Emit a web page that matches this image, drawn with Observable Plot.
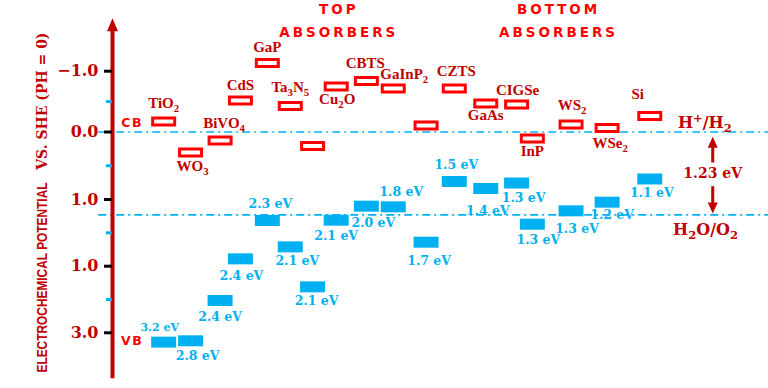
<!DOCTYPE html>
<html>
<head>
<meta charset="utf-8">
<script src="https://cdn.jsdelivr.net/npm/d3@7"></script>
<script src="https://cdn.jsdelivr.net/npm/@observablehq/plot@0.6"></script>
<style>
html, body { margin: 0; padding: 0; background: #fff; }
#chart { width: 768px; height: 388px; }
</style>
</head>
<body>
<div id="chart"></div>
<script>
// ---------------- data ----------------
const materials = ["TiO₂", "WO₃", "BiVO₄", "CdS", "GaP", "Ta₃N₅", "", "Cu₂O", "CBTS", "GaInP₂", "", "CZTS", "GaAs", "CIGSe", "InP", "WS₂", "WSe₂", "Si"];
const slot = [7.8, 11.9, 16.4, 19.5, 23.6, 27.1, 30.5, 34.1, 38.7, 42.8, 47.8, 52.1, 56.9, 61.6, 64.0, 69.9, 75.4, 81.9];
const cbEdge = [-0.173, 0.304, 0.126, -0.518, -1.135, -0.428, 0.207, -0.748, -0.839, -0.715, -0.107, -0.715, -0.469, -0.452, 0.096, -0.123, -0.066, -0.263];
const vbEdge = [3.14, 3.12, 2.515, 1.89, 1.315, 1.71, 2.31, 1.31, 1.10, 1.11, 1.64, 0.733, 0.837, 0.756, 1.37, 1.17, 1.04, 0.696];
const gapLabels = ["3.2 eV", "2.8 eV", "2.4 eV", "2.4 eV", "2.3 eV", "2.1 eV", "2.1 eV", "2.1 eV", "2.0 eV", "1.8 eV", "1.7 eV", "1.5 eV", "1.4 eV", "1.3 eV", "1.3 eV", "1.3 eV", "1.2 eV", "1.1 eV"];

const yTicks = [-1, 0, 1, 2, 3];
const yTickLabels = ["−1.0", "0.0", "1.0", "1.0", "3.0"];
const yMinorTicks = [-0.5, 0.5, 1.5, 2.5];

const redoxLevels = [0, 1.23];
const redoxLabels = ["H⁺/H₂", "H₂O/O₂"];
const redoxGapLabel = "1.23 eV";

const groupTitles = ["TOP", "BOTTOM"];
const groupTitleLine2 = ["ABSORBERS", "ABSORBERS"];
const groupCenters = [34.5, 68.0];

const bandLabels = ["CB", "VB"];
const bandLabelLevels = [-0.14, 3.13];

const axisTitleA = "ELECTROCHEMICAL POTENTIAL";
const axisTitleB = "VS. SHE (PH = 0)";

// ---------------- layout (label offsets in px) ----------------
const cbLabelOffset = [[0,-18],[2,14],[4,-17],[0,-15],[0,-16],[0,-19],null,[1,13],[-1,-18],[11,-14],null,[2,-17],[0,12],[1,-14],[0,13],[1,-19],[3,15],[-12,-22]];
const vbLabelOffset = [[-4,-15],[7,15],[0,17],[1,17],[3,-17],[7,14],[4,14],[0,16],[7,17],[8,-15],[3,19],[2,-16],[2,23],[7,15],[6,16],[6,18],[5,13],[2,14]];

const darkRed = "#c00000", red = "#ff0000", blue = "#00b0f0";

const rectSymbol = (w, h) => ({draw(c) { c.moveTo(-w/2, -h/2); c.lineTo(w/2, -h/2); c.lineTo(w/2, h/2); c.lineTo(-w/2, h/2); c.closePath(); }});
const headSymbol = (w, h) => ({draw(c) { c.moveTo(0, 0); c.lineTo(w/2, h); c.lineTo(-w/2, h); c.closePath(); }});

const idx = materials.map((_, i) => i);
const nameFont = {fontFamily: "Liberation Serif", fontWeight: "bold", fontSize: 15, fill: darkRed};
const evFont = {fontFamily: "DejaVu Serif", fontWeight: "bold", fill: blue};
const arrowX = 91.5;

const marks = [
  // redox levels (dash-dot)
  Plot.ruleY(redoxLevels, {x1: -2.1, x2: 100, stroke: blue, strokeWidth: 1.6, strokeDasharray: "8,4,2,4"}),
  // axis line with arrow head
  Plot.ruleX([0], {y1: 3.69, y2: -1.72, stroke: darkRed, strokeWidth: 4}),
  Plot.dot([0], {x: 0, y: -1.87, symbol: headSymbol(11, 13), fill: darkRed, stroke: "none"}),
  Plot.axisY({ticks: yTicks, tickSize: 8, tickPadding: 6, stroke: "black", strokeWidth: 3, fill: darkRed,
    fontFamily: "DejaVu Serif", fontWeight: "bold", fontSize: 16, label: null,
    tickFormat: d => yTickLabels[yTicks.indexOf(d)]}),
  Plot.axisY({ticks: yMinorTicks, tickSize: 6, stroke: blue, strokeWidth: 3, label: null, tickFormat: () => ""}),
  // conduction band edges (open boxes)
  Plot.dot(idx, {x: i => slot[i], y: i => cbEdge[i], symbol: rectSymbol(22, 7), fill: "none", stroke: red, strokeWidth: 3}),
  // valence band edges (filled boxes)
  Plot.dot(idx, {x: i => slot[i], y: i => vbEdge[i], symbol: rectSymbol(25, 11), fill: blue, stroke: "none"}),
  // band labels
  Plot.text(bandLabels, {x: 3.0, y: (d, i) => bandLabelLevels[i], text: d => d, fill: red, fontFamily: "DejaVu Sans", fontWeight: "bold", fontSize: 12.5}),
  // group titles
  Plot.text(groupTitles, {x: (d, i) => groupCenters[i], frameAnchor: "top", lineAnchor: "middle", dy: 9, text: d => d, fill: red, fontFamily: "DejaVu Sans", fontWeight: "bold", fontSize: 13.5}),
  Plot.text(groupTitleLine2, {x: (d, i) => groupCenters[i], frameAnchor: "top", lineAnchor: "middle", dy: 32, text: d => d, fill: red, fontFamily: "DejaVu Sans", fontWeight: "bold", fontSize: 13.5}),
  // y axis title
  Plot.text([axisTitleA], {frameAnchor: "bottom-left", lineAnchor: "middle", dx: -70, dy: -16, rotate: -90, textAnchor: "start", fill: darkRed, fontFamily: "Liberation Sans Narrow, Liberation Sans", fontWeight: "bold", fontSize: 14}),
  Plot.text([axisTitleB], {frameAnchor: "top-left", lineAnchor: "middle", dx: -70, dy: 32, rotate: -90, textAnchor: "end", fill: darkRed, fontFamily: "DejaVu Serif", fontWeight: "bold", fontSize: 14}),
  // redox annotations
  Plot.text([redoxLabels[0]], {x: 90.3, y: redoxLevels[0], dy: -9, fill: darkRed, fontFamily: "DejaVu Serif", fontWeight: "bold", fontSize: 16}),
  Plot.text([redoxLabels[1]], {x: 90.4, y: redoxLevels[1], dy: 15, fill: darkRed, fontFamily: "DejaVu Serif", fontWeight: "bold", fontSize: 16}),
  Plot.text([redoxGapLabel], {x: arrowX, y: 0.62, fill: darkRed, fontFamily: "DejaVu Serif", fontWeight: "bold", fontSize: 14}),
  Plot.ruleX([arrowX], {y1: 0.46, y2: 0.15, stroke: darkRed, strokeWidth: 3}),
  Plot.ruleX([arrowX], {y1: 0.81, y2: 1.10, stroke: darkRed, strokeWidth: 3}),
  Plot.dot([0], {x: arrowX, y: 0.07, symbol: headSymbol(10, 11), fill: darkRed, stroke: "none"}),
  Plot.dot([0], {x: arrowX, y: 1.21, symbol: headSymbol(10, 11), rotate: 180, fill: darkRed, stroke: "none"})
];

// material names
idx.forEach(i => {
  if (!materials[i]) return;
  marks.push(Plot.text([i], {x: j => slot[j], y: j => cbEdge[j], text: j => materials[j], dx: cbLabelOffset[i][0], dy: cbLabelOffset[i][1], ...nameFont}));
});
// band gap labels
idx.forEach(i => {
  marks.push(Plot.text([i], {x: j => slot[j], y: j => vbEdge[j], text: j => gapLabels[j], dx: vbLabelOffset[i][0], dy: vbLabelOffset[i][1], fontSize: i === 0 ? 11 : 12.5, ...evFont}));
});

const svg = Plot.plot({
  width: 768, height: 388,
  marginLeft: 112, marginRight: 0, marginTop: 0, marginBottom: 0,
  style: {fontFamily: "DejaVu Sans", background: "white", overflow: "visible"},
  x: {type: "linear", domain: [0, 100], axis: null},
  y: {type: "linear", domain: yTicks, range: [70.7, 131.5, 199, 265.7, 332.3]},
  marks
});
document.getElementById("chart").appendChild(svg);

// ---- typographic post-processing: sub/superscripts, letter spacing ----
const subs = "₀₁₂₃₄₅₆₇₈₉", sups = "⁰¹²³⁴⁵⁶⁷⁸⁹⁺⁻";
const plainSup = "0123456789+−";
svg.querySelectorAll("text").forEach(t => {
  const s = t.textContent;
  if (groupTitles.includes(s) || groupTitleLine2.includes(s)) t.style.letterSpacing = "3px";
  if (bandLabels.includes(s)) t.style.letterSpacing = "1.5px";
  if (s === axisTitleA) { t.setAttribute("textLength", 190); t.setAttribute("lengthAdjust", "spacingAndGlyphs"); }
  if (t.querySelector("tspan")) return;
  const chars = [...s];
  if (!chars.some(c => subs.includes(c) || sups.includes(c))) return;
  const fs = parseFloat(getComputedStyle(t).fontSize);
  const runs = [];
  for (const c of chars) {
    const type = subs.includes(c) ? "sub" : sups.includes(c) ? "sup" : "n";
    const ch = type === "sub" ? String(subs.indexOf(c)) : type === "sup" ? plainSup[sups.indexOf(c)] : c;
    if (runs.length && runs[runs.length - 1].type === type) runs[runs.length - 1].text += ch;
    else runs.push({type, text: ch});
  }
  t.textContent = "";
  let shift = 0;
  for (const r of runs) {
    const ts = document.createElementNS("http://www.w3.org/2000/svg", "tspan");
    const target = r.type === "sub" ? 0.26 * fs : r.type === "sup" ? -0.4 * fs : 0;
    if (r.type !== "n") ts.setAttribute("font-size", (0.72 * fs).toFixed(1));
    if (target - shift !== 0) ts.setAttribute("dy", (target - shift).toFixed(2));
    shift = target;
    ts.textContent = r.text;
    t.appendChild(ts);
  }
});
</script>
</body>
</html>
